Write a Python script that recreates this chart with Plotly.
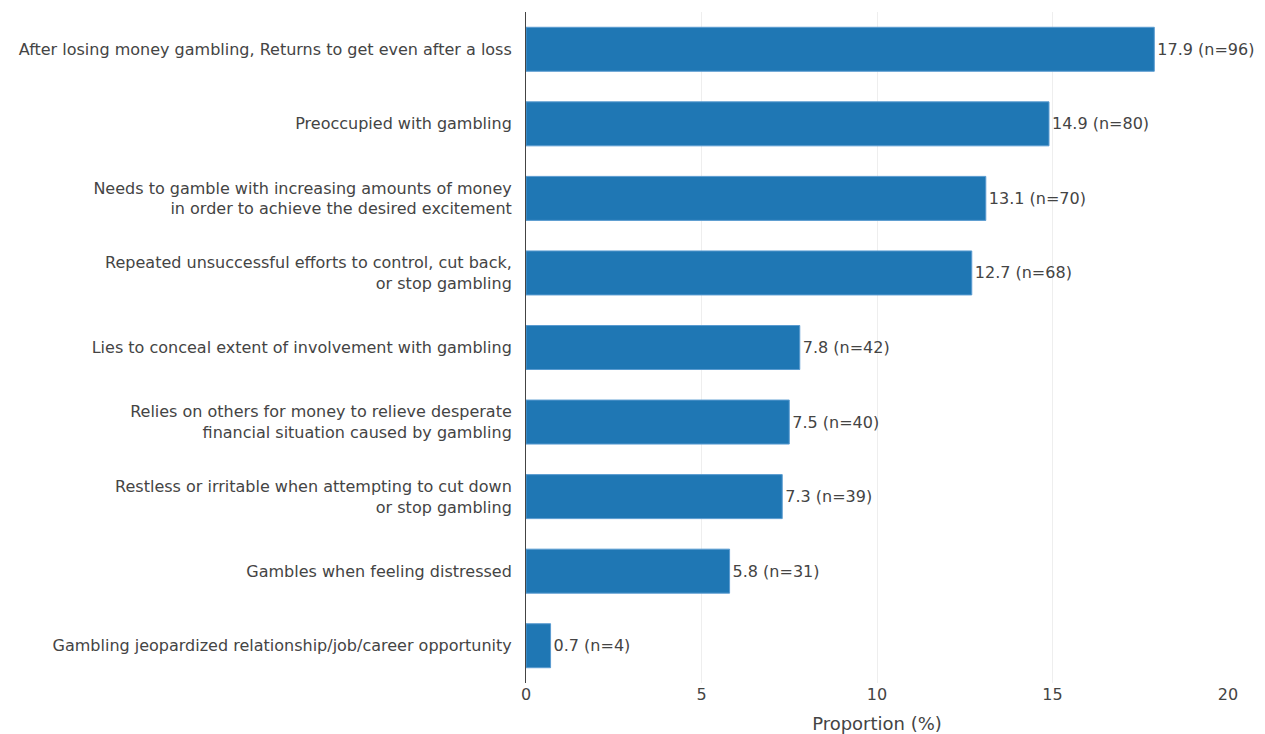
import plotly.graph_objects as go

categories = [
    "After losing money gambling, Returns to get even after a loss",
    "Preoccupied with gambling",
    "Needs to gamble with increasing amounts of money<br>in order to achieve the desired excitement",
    "Repeated unsuccessful efforts to control, cut back,<br>or stop gambling",
    "Lies to conceal extent of involvement with gambling",
    "Relies on others for money to relieve desperate<br>financial situation caused by gambling",
    "Restless or irritable when attempting to cut down<br>or stop gambling",
    "Gambles when feeling distressed",
    "Gambling jeopardized relationship/job/career opportunity",
]
proportions = [17.9, 14.9, 13.1, 12.7, 7.8, 7.5, 7.3, 5.8, 0.7]
counts = [96, 80, 70, 68, 42, 40, 39, 31, 4]
labels = [f"{p} (n={n})" for p, n in zip(proportions, counts)]

fig = go.Figure(go.Bar(
    x=proportions,
    y=categories,
    orientation="h",
    text=labels,
    textposition="outside",
    cliponaxis=False,
    marker=dict(color="#1f77b4", line=dict(color="#5a9bd0", width=1)),
    textfont=dict(color="#444", size=16),
))

fig.update_layout(
    width=1257, height=726,
    margin=dict(l=518, r=37, t=4, b=51, autoexpand=False),
    paper_bgcolor="white", plot_bgcolor="white",
    font=dict(family="DejaVu Sans", size=16, color="#444"),
    bargap=0.41,
    showlegend=False,
    xaxis=dict(
        range=[0, 20], dtick=5, showgrid=True, gridcolor="#eeeeee",
        zeroline=False, showline=False, ticks="",
        title=dict(text="Proportion (%)", font=dict(size=18), standoff=16),
        tickfont=dict(size=16), automargin=False,
    ),
    yaxis=dict(
        autorange="reversed", showline=True, linecolor="#444", linewidth=1,
        ticks="", ticklabelstandoff=10, tickfont=dict(size=16), automargin=False,
    ),
)

fig.write_html("out.html")
